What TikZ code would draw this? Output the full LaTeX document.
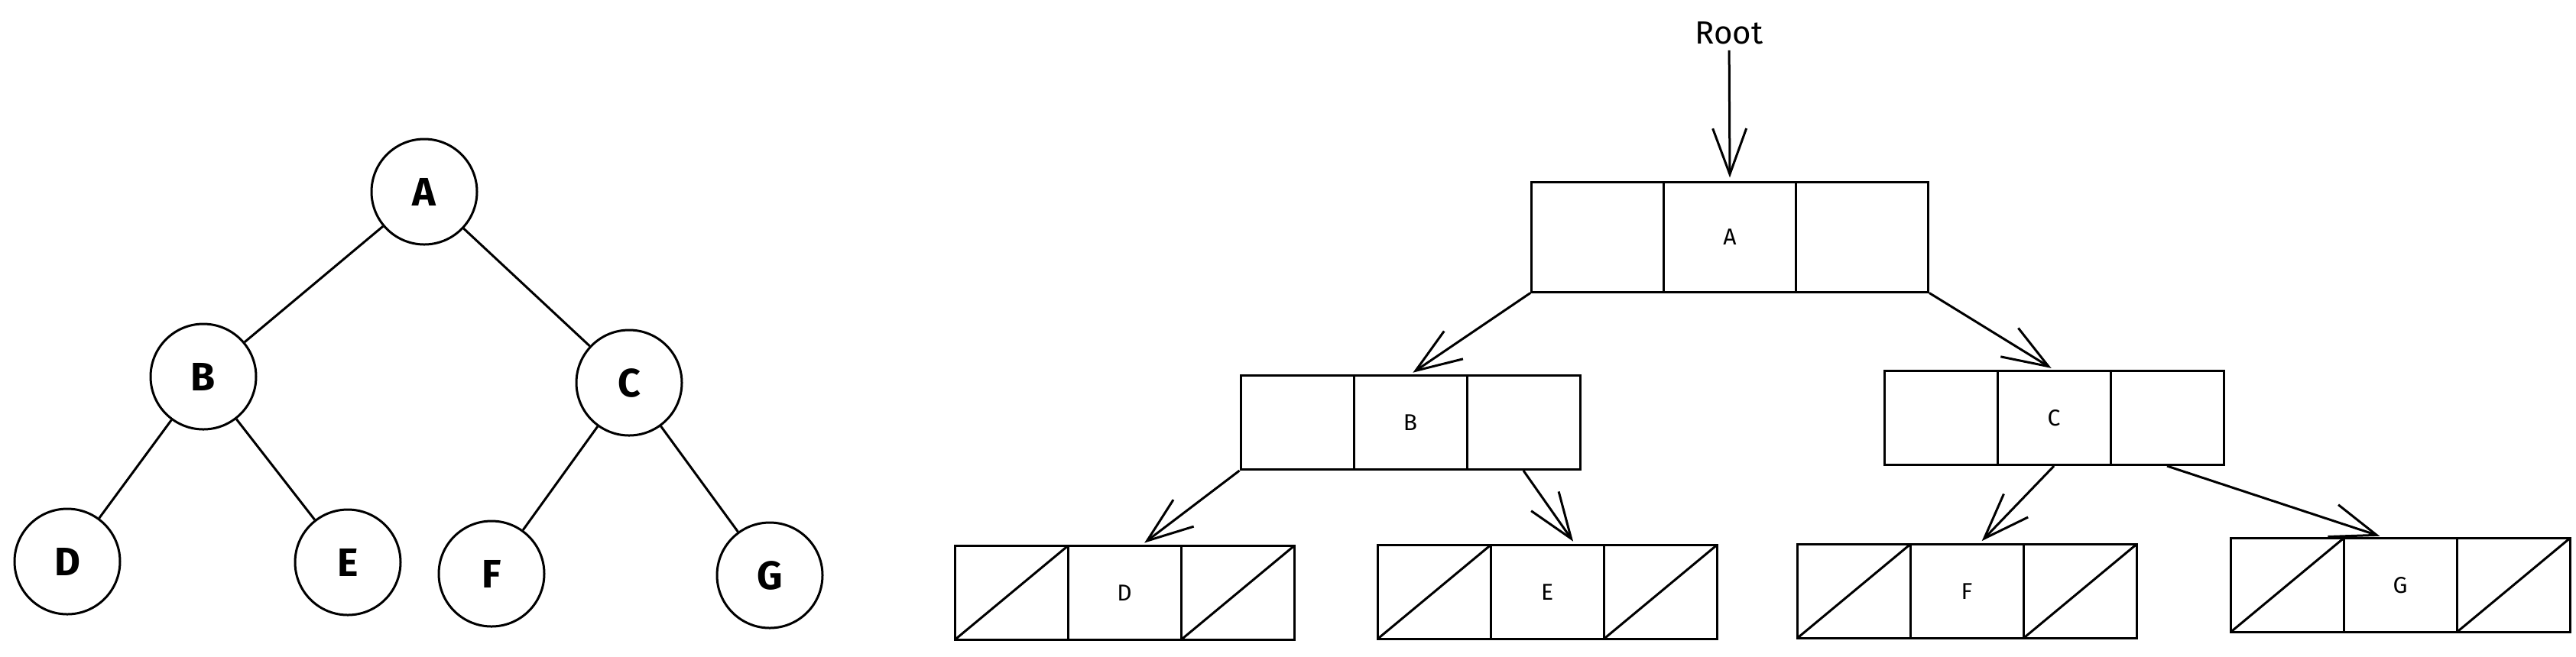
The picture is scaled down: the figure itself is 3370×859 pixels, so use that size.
\documentclass[tikz,border=0pt]{standalone}
\usepackage{fontspec}
\setmainfont{Fira Sans}
\usetikzlibrary{arrows.meta}

\begin{document}
\begin{tikzpicture}[x=0.5pt,y=-0.5pt,>={Straight Barb[length=30pt,width=22pt]},
  line width=1.5pt,node distance=74pt,
  tree node/.style={circle,draw,minimum size=69pt,inner sep=0pt,font=\fontsize{26}{30}\selectfont\bfseries},
  cell/.style={rectangle,draw,minimum width=74pt,minimum height=61.5pt,inner sep=0pt,font=\fontsize{15}{18}\selectfont},
  top cell/.style={cell,minimum width=86.5pt,minimum height=72pt,node distance=86.5pt},
  null cell/.style={cell,path picture={\draw (path picture bounding box.south west) -- (path picture bounding box.north east);}}]
  \useasboundingbox (0,0) rectangle (3370,859);

  \node[tree node] (A) at (555,251) {A};
  \node[tree node] (B) at (266,493) {B};
  \node[tree node] (C) at (823,501) {C};
  \node[tree node] (D) at (88,735) {D};
  \node[tree node] (E) at (455,736) {E};
  \node[tree node] (F) at (643,751) {F};
  \node[tree node] (G) at (1007,753) {G};
  \path (A) edge (B)
        (A) edge (C)
        (B) edge (D)
        (B) edge (E)
        (C) edge (F)
        (C) edge (G);

  \node[font=\fontsize{21}{24}\selectfont] (root) at (2262,43) {Root};
  \node[top cell] (Am) at (2263,310) {A};
  \node[top cell] (Al) [left of=Am] {};
  \node[top cell] (Ar) [right of=Am] {};
  \node[cell] (Bm) at (1845,553) {B};
  \node[cell] (Bl) [left of=Bm] {};
  \node[cell] (Br) [right of=Bm] {};
  \node[cell] (Cm) at (2687,547) {C};
  \node[cell] (Cl) [left of=Cm] {};
  \node[cell] (Cr) [right of=Cm] {};
  \node[cell] (Dm) at (1471,776) {D};
  \node[null cell] (Dl) [left of=Dm] {};
  \node[null cell] (Dr) [right of=Dm] {};
  \node[cell] (Em) at (2024,775) {E};
  \node[null cell] (El) [left of=Em] {};
  \node[null cell] (Er) [right of=Em] {};
  \node[cell] (Fm) at (2573,774) {F};
  \node[null cell] (Fl) [left of=Fm] {};
  \node[null cell] (Fr) [right of=Fm] {};
  \node[cell] (Gm) at (3140,766) {G};
  \node[null cell] (Gl) [left of=Gm] {};
  \node[null cell] (Gr) [right of=Gm] {};
  \path[->,shorten >=2pt]
     (root) edge (Am.north)
     (Al.south west) edge (Bm.north)
     (Ar.south east) edge (Cm.north)
     (Bl.south west) edge (Dm.70)
     (Br.south) edge (Em.60)
     (Cm.south) edge (Fm.75)
     (Cr.south) edge (Gm.110);
\end{tikzpicture}
\end{document}
